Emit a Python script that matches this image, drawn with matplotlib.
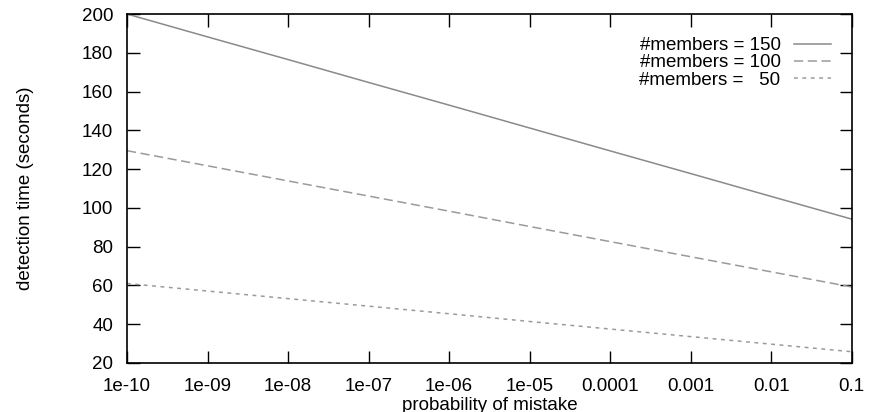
import matplotlib
matplotlib.use("Agg")
import matplotlib.pyplot as plt
from matplotlib.ticker import LogLocator, FixedLocator, NullFormatter

# DATA
prob = [1e-10, 1e-09, 1e-08, 1e-07, 1e-06, 1e-05, 1e-04, 1e-03, 1e-02, 1e-01]
prob_labels = ["1e-10", "1e-09", "1e-08", "1e-07", "1e-06", "1e-05", "0.0001", "0.001", "0.01", "0.1"]
members_150 = [200.0, 188.2, 176.5, 164.7, 153.0, 141.2, 129.4, 117.7, 105.9, 94.2]
members_100 = [129.5, 121.7, 113.9, 106.1, 98.3, 90.4, 82.6, 74.8, 67.0, 59.2]
members_50 = [61.0, 57.1, 53.2, 49.3, 45.4, 41.4, 37.5, 33.6, 29.7, 25.8]
series_labels = ["#members = 150", "#members = 100", "#members =   50"]

plt.rcParams['font.family'] = ['Liberation Sans', 'DejaVu Sans']
fs = 13.5

fig = plt.figure(figsize=(8.79, 4.12), dpi=100)
ax = fig.add_axes([0.1445, 0.119, 0.8245, 0.847])

ax.plot(prob, members_150, color='#8a8a8a', lw=1.1, linestyle='-', label=series_labels[0])
ax.plot(prob, members_100, color='#9a9a9a', lw=1.1, linestyle=(0, (6, 3)), label=series_labels[1])
ax.plot(prob, members_50, color='#9a9a9a', lw=1.1, linestyle=(0, (2.5, 3)), label=series_labels[2])

ax.set_xscale('log')
ax.set_xlim(1e-10, 0.1)
ax.set_ylim(20, 200)
ax.xaxis.set_major_locator(FixedLocator(prob))
ax.set_xticklabels(prob_labels)
ax.xaxis.set_minor_locator(LogLocator(base=10, subs=[2, 5, 8]))
ax.xaxis.set_minor_formatter(NullFormatter())
ax.set_yticks(range(20, 201, 20))

ax.tick_params(which='both', direction='in', top=True, right=True, labelsize=fs, width=1)
ax.tick_params(which='major', length=9)
ax.tick_params(which='minor', length=5)
ax.tick_params(axis='x', pad=11)
ax.tick_params(axis='y', pad=10)
for sp in ax.spines.values():
    sp.set_linewidth(1.2)

ax.set_xlabel("probability of mistake", fontsize=fs, labelpad=1)
ax.set_ylabel("detection time (seconds)", fontsize=fs, labelpad=34)

leg = ax.legend(loc='upper right', bbox_to_anchor=(0.982, 0.955), frameon=False,
                markerfirst=False, fontsize=fs, handlelength=2.0, handletextpad=0.7,
                labelspacing=0.0, borderaxespad=0)
for t in leg.get_texts():
    t.set_ha('right')

fig.savefig("out.png", dpi=100)
